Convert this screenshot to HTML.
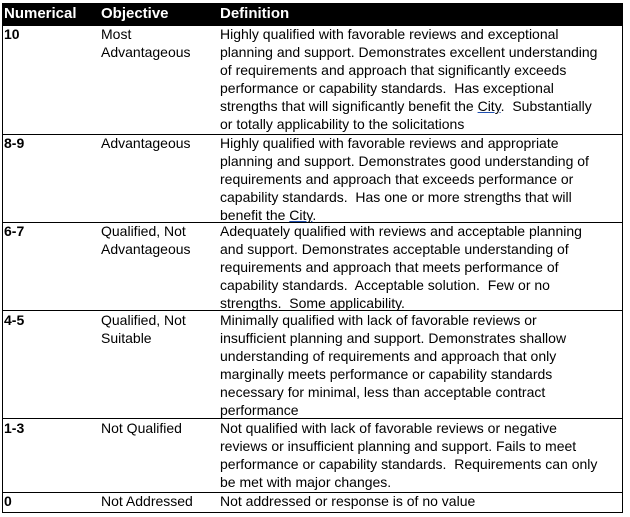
<!DOCTYPE html>
<html><head><style>
body{margin:0;width:630px;height:517px;background:#fff;position:relative;overflow:hidden;font-family:"Liberation Sans",sans-serif;font-size:14px;color:#000}
.t{position:absolute;line-height:18px;white-space:nowrap}
.b{font-weight:bold}
.hd{font-size:15px}
.h{position:absolute;left:2px;width:621px;height:1px;background:#000}
u{text-decoration:underline;color:#000;text-decoration-color:#1f4fb0}
</style></head><body>
<div style="position:absolute;left:2px;top:3px;width:621px;height:23px;background:#000"></div>
<div class="t b hd" style="left:4px;top:5px;color:#fff">Numerical</div>
<div class="t b hd" style="left:101px;top:5px;color:#fff">Objective</div>
<div class="t b hd" style="left:220px;top:5px;color:#fff">Definition</div>
<div style="position:absolute;left:2px;top:3px;width:1px;height:510px;background:#000"></div>
<div style="position:absolute;left:622px;top:3px;width:1px;height:510px;background:#000"></div>
<div class="h" style="top:134px"></div>
<div class="h" style="top:222px"></div>
<div class="h" style="top:310px"></div>
<div class="h" style="top:418px"></div>
<div class="h" style="top:492px"></div>
<div class="h" style="top:512px"></div>

<div class="t b" style="left:4px;top:25px">10</div>
<div class="t" style="left:101px;top:25px">Most<br>Advantageous</div>
<div class="t" style="left:220px;top:25px">Highly qualified with favorable reviews and exceptional<br>planning and support. Demonstrates excellent understanding<br>of requirements and approach that significantly exceeds<br>performance or capability standards.&nbsp; Has exceptional<br>strengths that will significantly benefit the <u>City</u>.&nbsp; Substantially<br>or totally applicability to the solicitations</div>

<div class="t b" style="left:4px;top:134px">8-9</div>
<div class="t" style="left:101px;top:134px">Advantageous</div>
<div class="t" style="left:220px;top:134px">Highly qualified with favorable reviews and appropriate<br>planning and support. Demonstrates good understanding of<br>requirements and approach that exceeds performance or<br>capability standards.&nbsp; Has one or more strengths that will<br>benefit the <u>City</u>.</div>

<div class="t b" style="left:4px;top:222px">6-7</div>
<div class="t" style="left:101px;top:222px">Qualified, Not<br>Advantageous</div>
<div class="t" style="left:220px;top:222px">Adequately qualified with reviews and acceptable planning<br>and support. Demonstrates acceptable understanding of<br>requirements and approach that meets performance of<br>capability standards.&nbsp; Acceptable solution.&nbsp; Few or no<br>strengths.&nbsp; Some applicability.</div>

<div class="t b" style="left:4px;top:311px">4-5</div>
<div class="t" style="left:101px;top:311px">Qualified, Not<br>Suitable</div>
<div class="t" style="left:220px;top:311px">Minimally qualified with lack of favorable reviews or<br>insufficient planning and support. Demonstrates shallow<br>understanding of requirements and approach that only<br>marginally meets performance or capability standards<br>necessary for minimal, less than acceptable contract<br>performance</div>

<div class="t b" style="left:4px;top:419px">1-3</div>
<div class="t" style="left:101px;top:419px">Not Qualified</div>
<div class="t" style="left:220px;top:419px">Not qualified with lack of favorable reviews or negative<br>reviews or insufficient planning and support. Fails to meet<br>performance or capability standards.&nbsp; Requirements can only<br>be met with major changes.</div>

<div class="t b" style="left:4px;top:492px">0</div>
<div class="t" style="left:101px;top:492px">Not Addressed</div>
<div class="t" style="left:220px;top:492px">Not addressed or response is of no value</div>
</body></html>
